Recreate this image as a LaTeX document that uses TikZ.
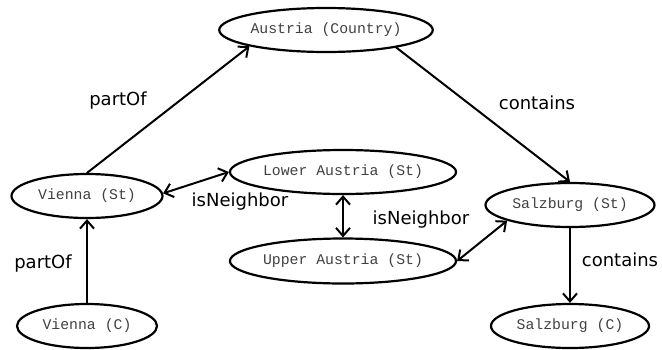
\documentclass[tikz,border=0pt]{standalone}
\usepackage{fontspec}
\setmonofont{Liberation Mono}
\newfontfamily\relfont{DejaVu Sans}
\usetikzlibrary{arrows.meta,shapes.geometric}

\begin{document}
\begin{tikzpicture}[x=1pt, y=-1pt, line cap=round,
  place/.style={ellipse, draw, line width=2.2pt, inner sep=0, text=black!75,
                font=\ttfamily\fontsize{14.8}{16}\selectfont},
  rel/.style={inner sep=0, font=\relfont\fontsize{18}{20}\selectfont},
  link/.style={line width=2pt, -{Straight Barb[length=8pt,width=14pt]}},
  twoway/.style={line width=2pt,
                 {Straight Barb[length=8pt,width=14pt]}-{Straight Barb[length=8pt,width=14pt]}}]

\useasboundingbox (0,0) rectangle (662,349);

% --- places ---
\node[place, minimum width=206, minimum height=44] (aut) at (326,30)  {Austria (Country)};
\node[place, minimum width=151, minimum height=44] (vst) at (87,196)  {Vienna (St)};
\node[place, minimum width=140, minimum height=44] (vc)  at (87,326)  {Vienna (C)};
\node[place, minimum width=213, minimum height=44] (lst) at (343,172) {Lower Austria (St)};
\node[place, minimum width=214, minimum height=45] (ust) at (343,261) {Upper Austria (St)};
\node[place, minimum width=169, minimum height=44] (sst) at (570,205) {Salzburg (St)};
\node[place, minimum width=158, minimum height=44] (sc)  at (570,326) {Salzburg (C)};

% --- relations ---
\draw[link] (vst.north) -- (aut.192);
\draw[link] (aut.-14) -- (sst.north);
\draw[link] (vc.north) -- (vst.south);
\draw[link] (sst.south) -- (sc.north);
\draw[twoway] (vst.2) -- (lst.west);
\draw[twoway] (lst.south) -- (ust.north);
\draw[twoway] (ust.east) -- (sst.194);

% --- labels ---
\node[rel] (partA) at (118,101) {partOf};
\node[rel] (contA) at (537,103) {contains};
\node[rel] (partB) at (43,264)  {partOf};
\node[rel] (nbA)   at (240,202) {isNeighbor};
\node[rel] (nbB)   at (421,220) {isNeighbor};
\node[rel] (contB) at (620,260) {contains};

\end{tikzpicture}
\end{document}
